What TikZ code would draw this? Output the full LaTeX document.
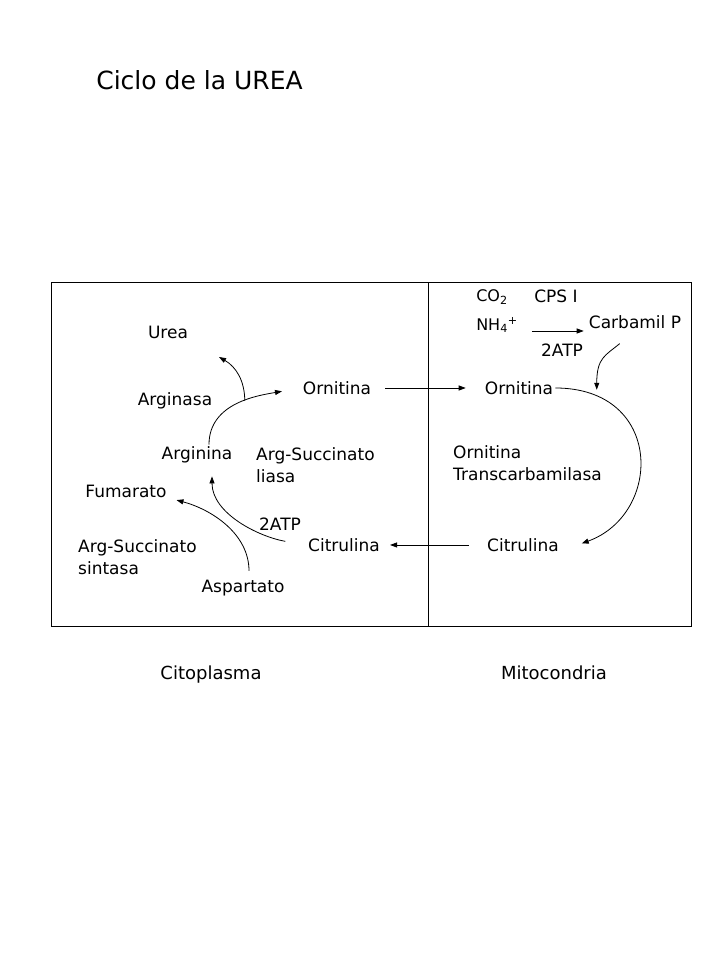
\documentclass[tikz,border=0pt]{standalone}
\usepackage{fontspec}
\setmainfont{DejaVu Sans}
\usetikzlibrary{arrows.meta}
\begin{document}
\begin{tikzpicture}[x=1pt,y=1pt,
	lbl/.style={inner sep=2pt,font=\fontsize{17}{21.5}\selectfont},
	quim/.style={inner sep=2pt,font=\fontsize{16}{19}\selectfont},
	zona/.style={inner sep=2pt,anchor=base,font=\fontsize{18}{22}\selectfont},
	arr/.style={line width=0.8pt,-{Triangle[length=7pt,width=5pt]}}]
		\useasboundingbox (0,0) rectangle (720,960);
		\node[font=\fontsize{25}{30}\selectfont] (titulo) at (199.5,880) {Ciclo de la UREA};
		\draw[line width=0.8pt] (51,334) rectangle (691,678);
		\draw[line width=0.8pt] (428,334) -- (428,678);
		
		\node[lbl] (urea) at (168,628) {Urea};
		\node[lbl] (arginasa) at (175,559) {Arginasa};
		\node[lbl] (ornC) at (337,572) {Ornitina};
		\node[lbl] (arginina) at (197,505) {Arginina};
		\node[lbl,align=left,anchor=west] (liasa) at (254,495) {Arg-Succinato\\liasa};
		\node[lbl] (fumarato) at (126,469) {Fumarato};
		\node[lbl] (atpC) at (280,436) {2ATP};
		\node[lbl,align=left,anchor=west] (sintasa) at (76,403) {Arg-Succinato\\sintasa};
		\node[lbl] (citC) at (344,415) {Citrulina};
		\node[lbl] (aspartato) at (243,372) {Aspartato};
		
		\node[quim] (co2) at (492,663) {CO\textsubscript{2}};
		\node[lbl] (cps) at (556,664) {CPS I};
		\node[quim] (nh4) at (497,635) {NH\textsubscript{4}\textsuperscript{+}};
		\node[lbl] (carbamil) at (635,638) {Carbamil P};
		\node[lbl] (atpM) at (562,610) {2ATP};
		\node[lbl] (ornM) at (519,572) {Ornitina};
		\node[lbl,align=left,anchor=west] (transc) at (451,497) {Ornitina\\Transcarbamilasa};
		\node[lbl] (citM) at (523,415) {Citrulina};
		
		\node[zona] (citoplasma) at (211,280) {Citoplasma};
		\node[zona] (mitocondria) at (554,280) {Mitocondria};
		\coordinate (ureaTip) at (219,603);
		
		\draw[arr,shorten <=12pt,shorten >=17pt] (ornC.east) -- (ornM.west);
		\draw[arr,shorten <=16pt,shorten >=8pt] (citM.west) -- (citC.east);
		\draw[arr,shorten <=12pt,shorten >=3pt] ([yshift=-6pt]nh4.east) -- ([yshift=-9pt]carbamil.west);
		\draw[arr,shorten >=19pt] ([xshift=12pt]arginina.north) to[out=90,in=190] coordinate[pos=0.55] (rama) (ornC.west);
		\draw[arr] (rama) to[out=90,in=-30] (ureaTip);
		\draw[arr,shorten <=21pt,shorten >=11pt] (citC.west) to[out=170,in=-90] ([xshift=15pt]arginina.south);
		\draw[arr,shorten <=7pt,shorten >=8pt] ([xshift=6pt]aspartato.north) to[out=90,in=-15] ([yshift=-7pt]fumarato.east);
		\draw[arr,shorten >=22pt] (ornM.east) to[out=0,in=20,looseness=1.7] coordinate[pos=0.15] (union) ([yshift=-6pt]citM.east);
		\draw[arr,shorten <=20pt,shorten >=6pt] (carbamil.south) to[out=220,in=90,looseness=1.3] (union);
	\end{tikzpicture}
\end{document}
